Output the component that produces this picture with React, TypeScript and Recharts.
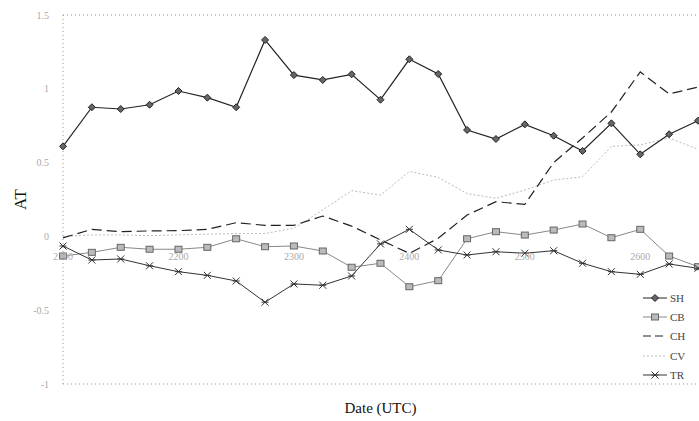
import React from 'react';
import { LineChart, Line, XAxis, YAxis, ReferenceLine, Legend } from 'recharts';

// sample index (15 min steps), tick labels as printed on the plot
const tickIdx = [0, 4, 8, 12, 16, 20];
const tickLabels = ['2100', '2200', '2300', '2400', '2500', '2600'];
const yTicks = [-1, -0.5, 0, 0.5, 1, 1.5];

const SH = [0.61, 0.875, 0.863, 0.892, 0.985, 0.94, 0.875, 1.331, 1.093, 1.06, 1.098, 0.926, 1.2, 1.1, 0.721, 0.66, 0.759, 0.682, 0.579, 0.766, 0.556, 0.692, 0.784];
const CB = [-0.133, -0.108, -0.074, -0.087, -0.087, -0.074, -0.016, -0.07, -0.065, -0.099, -0.209, -0.182, -0.341, -0.3, -0.016, 0.032, 0.009, 0.043, 0.084, -0.009, 0.048, -0.133, -0.205];
const CH = [-0.01, 0.048, 0.032, 0.037, 0.039, 0.048, 0.093, 0.075, 0.075, 0.138, 0.07, -0.024, -0.115, -0.013, 0.145, 0.235, 0.217, 0.5, 0.667, 0.843, 1.114, 0.965, 1.012];
const CV = [0.0, 0.01, 0.01, 0.005, 0.01, 0.015, 0.02, 0.02, 0.055, 0.18, 0.31, 0.28, 0.44, 0.4, 0.29, 0.258, 0.314, 0.382, 0.404, 0.61, 0.62, 0.667, 0.59];
const TR = [-0.065, -0.16, -0.153, -0.199, -0.239, -0.264, -0.302, -0.446, -0.322, -0.331, -0.268, -0.051, 0.048, -0.092, -0.126, -0.104, -0.114, -0.097, -0.182, -0.239, -0.257, -0.187, -0.216];

const data = SH.map((v, i) => ({ i, SH: v, CB: CB[i], CH: CH[i], CV: CV[i], TR: TR[i] }));

const FONT = '"Liberation Serif", "DejaVu Serif", serif';

const Diamond = (props: any) => {
    const { cx, cy } = props;
    if (cx == null || cy == null) return null;
    const s = 3.5;
    return <path d={`M${cx},${cy - s}L${cx + s},${cy}L${cx},${cy + s}L${cx - s},${cy}Z`} fill="#666" stroke="#222" strokeWidth={1} />;
};

const Square = (props: any) => {
    const { cx, cy } = props;
    if (cx == null || cy == null) return null;
    return <rect x={cx - 3.5} y={cy - 3} width={7} height={6} fill="#bbb" stroke="#666" strokeWidth={1} />;
};

const Star = (props: any) => {
    const { cx, cy } = props;
    if (cx == null || cy == null) return null;
    const s = 3.5;
    return (
        <g stroke="#333" strokeWidth={1}>
            <line x1={cx - s} y1={cy - s} x2={cx + s} y2={cy + s} />
            <line x1={cx - s} y1={cy + s} x2={cx + s} y2={cy - s} />
            <line x1={cx - s} y1={cy} x2={cx + s} y2={cy} />
        </g>
    );
};

const series = [
    { key: 'SH', color: '#222', dash: undefined, Mark: Diamond },
    { key: 'CB', color: '#888', dash: undefined, Mark: Square },
    { key: 'CH', color: '#222', dash: '8 4', Mark: null },
    { key: 'CV', color: '#bbb', dash: '2 2', Mark: null },
    { key: 'TR', color: '#333', dash: undefined, Mark: Star },
];

const LegendBox = () => (
    <div style={{ fontFamily: FONT, fontSize: 11, color: '#444' }}>
        {series.map((s) => (
            <div key={s.key} style={{ display: 'flex', alignItems: 'center', height: 19.3 }}>
                <svg width={26} height={10}>
                    <line x1={1} y1={5} x2={25} y2={5} stroke={s.color} strokeWidth={1} strokeDasharray={s.dash} />
                    {s.Mark ? <s.Mark cx={13} cy={5} /> : null}
                </svg>
                <span style={{ marginLeft: 2 }}>{s.key}</span>
            </div>
        ))}
    </div>
);

const XTick = (props: any) => {
    const { x, y, payload } = props;
    const k = tickIdx.indexOf(payload.value);
    return (
        <text x={x} y={y - 132} textAnchor="middle" fontSize={10} fill="#aaa" fontFamily={FONT}>
            {tickLabels[k]}
        </text>
    );
};

export default function App() {
    return (
        <div style={{ position: 'absolute', left: 0, top: 0, width: 699, height: 421, background: '#fff' }}>
            <LineChart width={699} height={421} data={data} margin={{ top: 15, right: 1, left: 0, bottom: 0 }}>
                <XAxis
                    dataKey="i"
                    type="number"
                    domain={[0, 22]}
                    ticks={tickIdx}
                    tick={<XTick />}
                    tickLine={false}
                    axisLine={{ stroke: '#999', strokeDasharray: '1 3' }}
                    height={37}
                    label={({ viewBox }: any) => (
                        <text x={viewBox.x + viewBox.width / 2} y={413} textAnchor="middle" fontSize={15} fill="#111" fontFamily={FONT}>
                            Date (UTC)
                        </text>
                    )}
                />
                <YAxis
                    type="number"
                    domain={[-1, 1.5]}
                    ticks={yTicks}
                    width={63}
                    tickLine={false}
                    axisLine={{ stroke: '#999', strokeDasharray: '1 3' }}
                    tick={{ fill: '#aaa', fontSize: 10, fontFamily: FONT }}
                    tickMargin={8}
                    tickFormatter={(v: number) => String(v)}
                    label={({ viewBox }: any) => {
                        const cx = 20;
                        const cy = viewBox.y + viewBox.height / 2;
                        return (
                            <text x={cx} y={cy} transform={`rotate(-90, ${cx}, ${cy})`} textAnchor="middle" dominantBaseline="central" fontSize={17} fill="#111" fontFamily={FONT}>
                                AT
                            </text>
                        );
                    }}
                />
                <ReferenceLine y={1.5} stroke="#999" strokeDasharray="1 3" />
                <Legend
                    layout="vertical"
                    align="center"
                    verticalAlign="middle"
                    content={<LegendBox />}
                    wrapperStyle={{ left: 642, top: 288, width: 57 }}
                />
                <Line type="linear" dataKey="CV" stroke="#bbb" strokeWidth={1} strokeDasharray="2 2" dot={false} isAnimationActive={false} />
                <Line type="linear" dataKey="CH" stroke="#222" strokeWidth={1.2} strokeDasharray="10 5" dot={false} isAnimationActive={false} />
                <Line type="linear" dataKey="CB" stroke="#888" strokeWidth={1} dot={<Square />} isAnimationActive={false} />
                <Line type="linear" dataKey="TR" stroke="#333" strokeWidth={1} dot={<Star />} isAnimationActive={false} />
                <Line type="linear" dataKey="SH" stroke="#222" strokeWidth={1.2} dot={<Diamond />} isAnimationActive={false} />
            </LineChart>
        </div>
    );
}
